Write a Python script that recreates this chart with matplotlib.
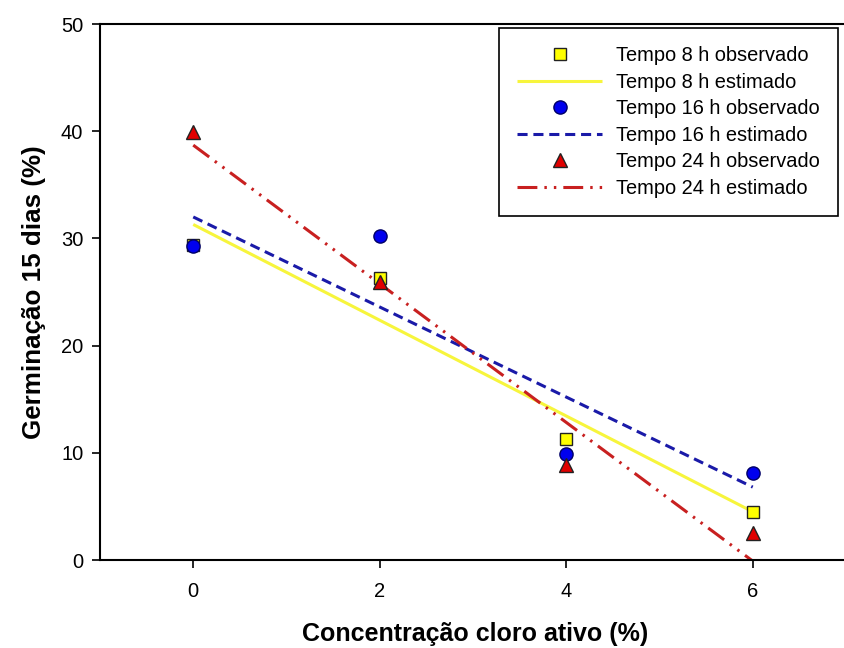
import matplotlib
matplotlib.use('Agg')
import matplotlib.pyplot as plt

# concentration of active chlorine (%)
conc = [0, 2, 4, 6]

# observed germination at 15 days (%)
obs_8h = [29.4, 26.3, 11.3, 4.5]
obs_16h = [29.3, 30.2, 9.9, 8.1]
obs_24h = [39.9, 25.9, 8.9, 2.5]

# fitted lines, read at x = 0 and x = 6
fit_x = [0, 6]
fit_8h = [31.3, 4.5]
fit_16h = [32.0, 6.8]
fit_24h = [38.7, -0.1]

plt.rcParams['font.family'] = ['Liberation Sans', 'DejaVu Sans']

fig = plt.figure(figsize=(8.44, 6.48), dpi=100)
ax = fig.add_axes([100 / 844, 88 / 648, 746 / 844, 536 / 648])

ax.plot(fit_x, fit_8h, color='#f7f53c', lw=2.2, solid_capstyle='butt',
        label='Tempo 8 h estimado', zorder=2)
ax.plot(fit_x, fit_16h, color='#1a1aa8', lw=2.2, dashes=(3.3, 1.9),
        label='Tempo 16 h estimado', zorder=2)
ax.plot(fit_x, fit_24h, color='#c82020', lw=2.2, dashes=(6.5, 2.3, 0.8, 2.3, 0.8, 2.3),
        label='Tempo 24 h estimado', zorder=2)

ax.plot(conc, obs_8h, 's', ms=8.5, mfc='#ffff00', mec='#222222', mew=1,
        ls='none', label='Tempo 8 h observado', zorder=3)
ax.plot(conc, obs_16h, 'o', ms=9.5, mfc='#0000ee', mec='#000066', mew=1,
        ls='none', label='Tempo 16 h observado', zorder=4)
ax.plot(conc, obs_24h, '^', ms=9.5, mfc='#e00000', mec='#222222', mew=1,
        ls='none', label='Tempo 24 h observado', zorder=5)

ax.set_xlim(-1, 7)
ax.set_ylim(0, 50)
ax.set_xticks([0, 2, 4, 6])
ax.set_yticks([0, 10, 20, 30, 40, 50])
ax.tick_params(direction='out', length=6, width=1.2, labelsize=14.5)
ax.tick_params(axis='x', pad=10)
ax.tick_params(axis='y', pad=6)
for s in ax.spines.values():
    s.set_linewidth(1.5)

ax.set_xlabel('Concentração cloro ativo (%)', fontsize=18, fontweight='bold')
ax.set_ylabel('Germinação 15 dias (%)', fontsize=18.7, fontweight='bold')
ax.xaxis.set_label_coords(0.503, -0.115)
ax.yaxis.set_label_coords(-0.072, 0.5)

handles, labels = ax.get_legend_handles_labels()
order = [3, 0, 4, 1, 5, 2]
leg = ax.legend([handles[i] for i in order], [labels[i] for i in order],
                loc='upper right', bbox_to_anchor=(738 / 746, 532 / 536),
                fontsize=14.4, frameon=True, fancybox=False, framealpha=1,
                edgecolor='black', handlelength=4.25, handletextpad=0.7,
                labelspacing=0.38, borderpad=0.9, borderaxespad=0)
leg.get_frame().set_linewidth(1.2)

fig.savefig('out.png', dpi=100)
